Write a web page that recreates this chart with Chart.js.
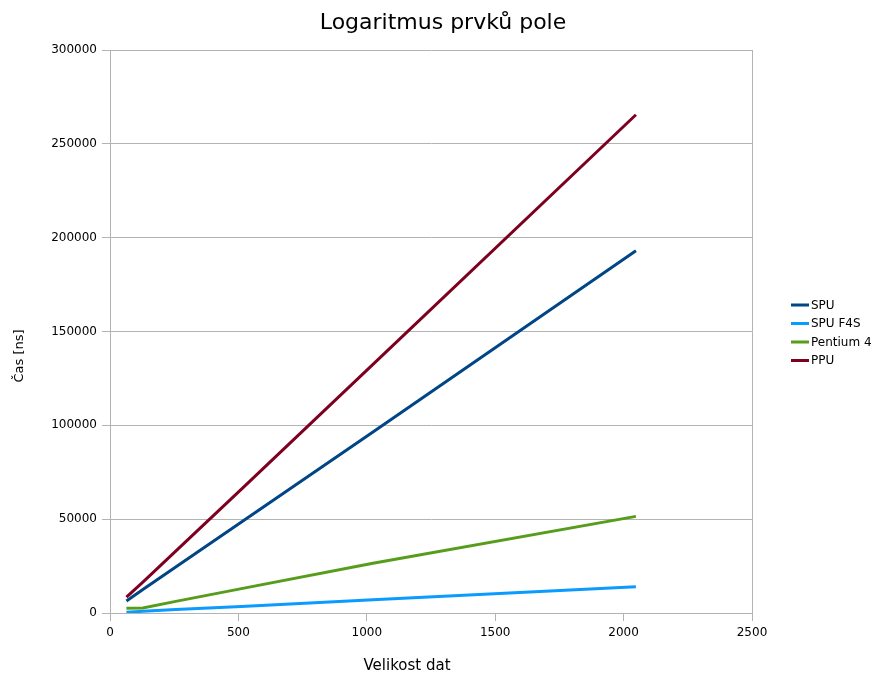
<!DOCTYPE html>
<html>
<head>
<meta charset="utf-8">
<title>Logaritmus prvků pole</title>
<script src="https://cdn.jsdelivr.net/npm/chart.js@4/dist/chart.umd.min.js"></script>
<style>
  html, body { margin: 0; padding: 0; background: #ffffff; }
  #wrap { width: 876px; height: 677px; }
</style>
</head>
<body>
<div id="wrap"><canvas id="c" width="876" height="677"></canvas></div>
<script>
// Velikost dat (number of elements)
const sizes = [64, 128, 256, 512, 1024, 2048];

// Čas [ns] per implementation
const spu      = [6400, 12500, 24500, 48500, 96500, 193000];
const spuF4S   = [450, 900, 1800, 3500, 7000, 14000];
const pentium4 = [2500, 2700, 6200, 13000, 26500, 51500];
const ppu      = [8500, 16500, 33000, 66000, 132500, 265500];

const seriesNames = ['SPU', 'SPU F4S', 'Pentium 4', 'PPU'];
const seriesColors = ['#004586', '#0a9bff', '#579d1c', '#7e0021'];
const seriesValues = [spu, spuF4S, pentium4, ppu];

const chartTitle = 'Logaritmus prvků pole';
const xTitle = 'Velikost dat';
const yTitle = 'Čas [ns]';

const FONT = '"DejaVu Sans", Verdana, sans-serif';
const GRID = '#b3b3b3';

const datasets = seriesValues.map((vals, i) => ({
  label: seriesNames[i],
  data: sizes.map((s, j) => ({ x: s, y: vals[j] })),
  borderColor: seriesColors[i],
  backgroundColor: seriesColors[i],
  borderWidth: 3,
  pointRadius: 0,
  pointHoverRadius: 0,
  tension: 0,
  fill: false,
  order: seriesValues.length - i
}));

// Titles and legend painted on the canvas in the office-chart style
const decorations = {
  id: 'decorations',
  afterDraw(chart) {
    const c = chart.ctx;
    const area = chart.chartArea;
    c.save();
    c.fillStyle = '#000000';

    c.font = '22px ' + FONT;
    c.textAlign = 'center';
    c.textBaseline = 'alphabetic';
    c.fillText(chartTitle, chart.width / 2 + 5, 29);

    c.font = '15px ' + FONT;
    c.fillText(xTitle, area.left + 297, 670);

    c.save();
    c.font = '13px ' + FONT;
    c.translate(20, 356);
    c.rotate(-Math.PI / 2);
    c.textBaseline = 'middle';
    c.fillText(yTitle, 0, 0);
    c.restore();

    c.font = '12px ' + FONT;
    c.textAlign = 'left';
    c.textBaseline = 'middle';
    chart.data.datasets.forEach((ds, i) => {
      const y = 305 + i * 18.5;
      c.strokeStyle = ds.borderColor;
      c.lineWidth = 3;
      c.beginPath();
      c.moveTo(791, y);
      c.lineTo(809, y);
      c.stroke();
      c.fillStyle = '#000000';
      c.fillText(ds.label, 811, y + 0.5);
    });
    c.restore();
  }
};

new Chart(document.getElementById('c'), {
  type: 'line',
  data: { datasets },
  plugins: [decorations],
  options: {
    responsive: false,
    animation: false,
    devicePixelRatio: 1,
    layout: { padding: { top: 50, right: 124, left: 0, bottom: 0 } },
    plugins: {
      legend: { display: false },
      title: { display: false },
      tooltip: { enabled: false }
    },
    scales: {
      x: {
        type: 'linear',
        min: 0,
        max: 2500,
        afterFit(scale) { scale.height = 64; },
        ticks: {
          stepSize: 500,
          padding: 5,
          color: '#000000',
          font: { family: FONT, size: 12 },
          maxRotation: 0,
          callback: v => String(v)
        },
        grid: {
          color: ctx => (ctx.tick && ctx.tick.value === 2500) ? GRID : 'rgba(0,0,0,0)',
          tickColor: GRID,
          tickLength: 8,
          drawTicks: true
        },
        border: { display: true, color: GRID }
      },
      y: {
        type: 'linear',
        min: 0,
        max: 300000,
        afterFit(scale) { scale.width = 110; },
        ticks: {
          stepSize: 50000,
          padding: 5,
          color: '#000000',
          font: { family: FONT, size: 12 },
          callback: v => String(v)
        },
        grid: {
          color: GRID,
          tickColor: GRID,
          tickLength: 8,
          drawTicks: true
        },
        border: { display: true, color: GRID }
      }
    }
  }
});
</script>
</body>
</html>
